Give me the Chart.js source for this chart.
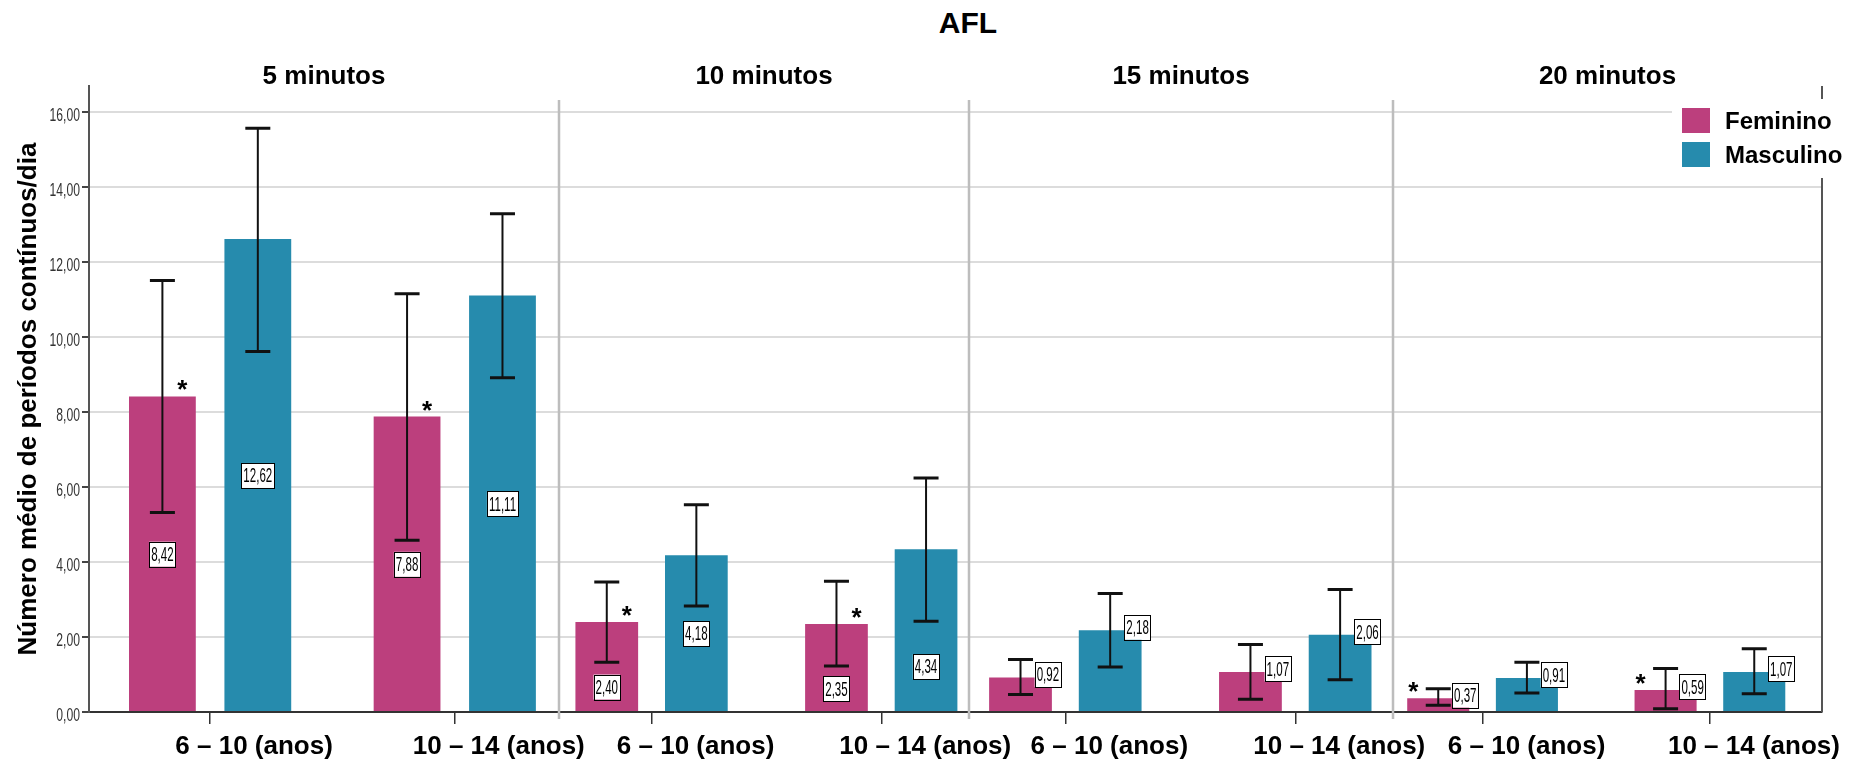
<!DOCTYPE html>
<html>
<head>
  <meta charset="utf-8" />
  <title>AFL</title>
  <script src="https://cdn.jsdelivr.net/npm/chart.js"></script>
  <style>
    body { margin: 0; background: #fff; }
    .figura { position: relative; width: 1863px; height: 765px; overflow: hidden; }
    .figura canvas { position: absolute; top: 0; }
    .titulo {
      position: absolute; left: 868px; top: 8px; width: 200px; text-align: center;
      font: bold 30px 'Liberation Sans', Arial, sans-serif; line-height: 30px; color: #000;
    }
  </style>
</head>
<body>
  <div class="figura">
    <div class="titulo">AFL</div>
    <canvas id="p0" width="619" height="765" style="left:0px"></canvas>
    <canvas id="p1" width="474" height="765" style="left:555px"></canvas>
    <canvas id="p2" width="488" height="765" style="left:965px"></canvas>
    <canvas id="p3" width="474" height="765" style="left:1389px"></canvas>
  </div>

  <script>
    // dados
    const panels = ['5 minutos', '10 minutos', '15 minutos', '20 minutos'];
    const categories = ['6 – 10 (anos)', '10 – 14 (anos)'];
    const yTicks = [0, 2, 4, 6, 8, 10, 12, 14, 16];

    const femMean = [[8.42, 7.88], [2.40, 2.35], [0.92, 1.07], [0.37, 0.59]];
    const femLow  = [[5.32, 4.58], [1.33, 1.23], [0.47, 0.34], [0.18, 0.09]];
    const femHigh = [[11.51, 11.16], [3.47, 3.49], [1.40, 1.80], [0.62, 1.16]];

    const mascMean = [[12.62, 11.11], [4.18, 4.34], [2.18, 2.06], [0.91, 1.07]];
    const mascLow  = [[9.62, 8.92], [2.83, 2.42], [1.20, 0.86], [0.51, 0.49]];
    const mascHigh = [[15.57, 13.29], [5.53, 6.24], [3.16, 3.27], [1.33, 1.69]];

    // asterisco (diferença significativa) sobre as barras do sexo feminino
    const femStar = [[true, true], [true, true], [false, false], [true, true]];

    // estilo
    const corF = '#BC3F7D';
    const corM = '#268BAD';
    const fonte = "'Liberation Sans', Arial, sans-serif";

    // posição de cada painel (padding do canvas e limites do eixo x)
    const layoutPaineis = [
      { pl: 0, pr: 60, xmin: -0.495, xmax: 1.426 },
      { pl: 4, pr: 60, xmin: -0.403, xmax: 1.382 },
      { pl: 4, pr: 60, xmin: -0.419, xmax: 1.425 },
      { pl: 4, pr: 41, xmin: -0.394, xmax: 1.493 }
    ];

    const fmt = v => v.toFixed(2).replace('.', ',');

    // texto condensado (como o do SPSS): escala horizontal
    function textoEstreito(ctx, txt, x, y, size, escala, align) {
      ctx.save();
      ctx.font = size + 'px ' + fonte;
      ctx.textBaseline = 'middle';
      ctx.textAlign = align;
      ctx.translate(x, y);
      ctx.scale(escala, 1);
      ctx.fillText(txt, 0, 0);
      ctx.restore();
    }

    function desenhaErro(ctx, x, yLo, yHi) {
      ctx.strokeStyle = '#111';
      ctx.lineWidth = 2;
      ctx.beginPath();
      ctx.moveTo(x, yHi); ctx.lineTo(x, yLo);
      ctx.stroke();
      ctx.lineWidth = 3;
      ctx.beginPath();
      ctx.moveTo(x - 12.5, yHi); ctx.lineTo(x + 12.5, yHi);
      ctx.moveTo(x - 12.5, yLo); ctx.lineTo(x + 12.5, yLo);
      ctx.stroke();
    }

    function desenhaRotulo(ctx, txt, cx, cy) {
      ctx.font = '21px ' + fonte;
      const w = ctx.measureText(txt).width * 0.55 + 4, h = 25;
      ctx.fillStyle = '#fff';
      ctx.fillRect(cx - w / 2, cy - h / 2, w, h);
      ctx.strokeStyle = '#000';
      ctx.lineWidth = 1;
      ctx.strokeRect(Math.round(cx - w / 2) + 0.5, Math.round(cy - h / 2) + 0.5, Math.round(w), h);
      ctx.fillStyle = '#000';
      textoEstreito(ctx, txt, cx, cy + 1, 21, 0.55, 'center');
    }

    function painelPlugin(p) {
      return {
        id: 'painel' + p,
        beforeDatasetsDraw(chart) {
          const { ctx, chartArea } = chart;
          if (p > 0) {
            // linha separadora entre painéis
            ctx.save();
            ctx.strokeStyle = '#bdbdbd';
            ctx.lineWidth = 2.5;
            ctx.beginPath();
            ctx.moveTo(chartArea.left, 100);
            ctx.lineTo(chartArea.left, chartArea.bottom + 7);
            ctx.stroke();
            ctx.restore();
          }
        },
        afterDatasetsDraw(chart) {
          const { ctx } = chart;
          const y = chart.scales.y;
          const series = [
            { mean: femMean[p], low: femLow[p], high: femHigh[p] },
            { mean: mascMean[p], low: mascLow[p], high: mascHigh[p] }
          ];
          const dentro = p < 2;
          ctx.save();
          series.forEach((s, d) => {
            const meta = chart.getDatasetMeta(d);
            meta.data.forEach((bar, i) => {
              desenhaErro(ctx, bar.x, y.getPixelForValue(s.low[i]), y.getPixelForValue(s.high[i]));
            });
          });
          series.forEach((s, d) => {
            const meta = chart.getDatasetMeta(d);
            meta.data.forEach((bar, i) => {
              let cx, cy;
              if (dentro) {
                const v = s.mean[i] / 2 < s.low[i] - 0.6 ? s.mean[i] / 2 : s.low[i] / 2;
                cx = bar.x;
                cy = y.getPixelForValue(v);
              } else {
                cx = bar.x + bar.width / 2 - 4;
                cy = bar.y - 3;
              }
              desenhaRotulo(ctx, fmt(s.mean[i]), cx, cy);
            });
          });
          // asteriscos
          const metaF = chart.getDatasetMeta(0);
          ctx.fillStyle = '#000';
          ctx.font = 'bold 26px ' + fonte;
          ctx.textAlign = 'center';
          ctx.textBaseline = 'alphabetic';
          metaF.data.forEach((bar, i) => {
            if (!femStar[p][i]) return;
            const sx = dentro ? bar.x + 20 : bar.x - 25;
            ctx.fillText('*', sx, bar.y + 2);
          });
          ctx.restore();
        },
        afterDraw(chart) {
          const { ctx, chartArea } = chart;
          ctx.save();
          // título do painel
          ctx.fillStyle = '#000';
          ctx.font = 'bold 26px ' + fonte;
          ctx.textAlign = 'center';
          ctx.textBaseline = 'middle';
          ctx.fillText(panels[p], (chartArea.left + chartArea.right) / 2, 77);

          if (p === 0) {
            // rótulos do eixo y, condensados
            const y = chart.scales.y;
            ctx.fillStyle = '#333';
            yTicks.forEach(v => {
              textoEstreito(ctx, fmt(v), chartArea.left - 9, y.getPixelForValue(v) + 4, 19, 0.64, 'right');
            });
          }

          if (p === panels.length - 1) {
            // borda direita
            ctx.strokeStyle = '#555';
            ctx.lineWidth = 2;
            ctx.beginPath();
            ctx.moveTo(chartArea.right, chartArea.top);
            ctx.lineTo(chartArea.right, chartArea.bottom);
            ctx.stroke();
            // legenda
            const r = chartArea.right;
            ctx.fillStyle = '#fff';
            ctx.fillRect(r - 150, 99, 200, 79);
            const itens = [['Feminino', corF, 108], ['Masculino', corM, 142]];
            ctx.font = 'bold 24px ' + fonte;
            ctx.textAlign = 'left';
            itens.forEach(([txt, cor, top]) => {
              ctx.fillStyle = cor;
              ctx.fillRect(r - 140, top, 28, 25);
              ctx.fillStyle = '#000';
              ctx.fillText(txt, r - 97, top + 14);
            });
          }
          ctx.restore();
        }
      };
    }

    function criaPainel(p) {
      const lp = layoutPaineis[p];
      const primeiro = p === 0;
      return new Chart(document.getElementById('p' + p), {
        type: 'bar',
        data: {
          datasets: [{
            label: 'Feminino',
            data: categories.map((c, i) => ({ x: i, y: femMean[p][i] })),
            backgroundColor: corF,
            categoryPercentage: 0.78,
            barPercentage: 0.7
          }, {
            label: 'Masculino',
            data: categories.map((c, i) => ({ x: i, y: mascMean[p][i] })),
            backgroundColor: corM,
            categoryPercentage: 0.78,
            barPercentage: 0.7
          }]
        },
        options: {
          responsive: false,
          animation: false,
          devicePixelRatio: 1,
          layout: { padding: { top: 86, bottom: 0, left: lp.pl, right: lp.pr } },
          plugins: {
            legend: { display: false },
            tooltip: { enabled: false },
            title: { display: false }
          },
          scales: {
            x: {
              type: 'linear',
              offset: false,
              min: lp.xmin,
              max: lp.xmax,
              afterBuildTicks: s => { s.ticks = categories.map((c, i) => ({ value: i })); },
              afterFit: s => { s.height = 53; },
              ticks: {
                callback: v => categories[v],
                labelOffset: 44,
                padding: 7,
                autoSkip: false,
                maxRotation: 0,
                color: '#000',
                font: { family: fonte, size: 26, weight: 'bold', lineHeight: 1.2 }
              },
              grid: { offset: false, drawOnChartArea: false, drawTicks: true, tickLength: 12, tickColor: '#333', lineWidth: 1.5 },
              border: { display: true, color: '#333', width: 2 }
            },
            y: {
              min: 0,
              max: 16.7,
              afterBuildTicks: s => { s.ticks = yTicks.map(v => ({ value: v })); },
              afterFit: s => { s.width = primeiro ? 89 : 0; },
              ticks: { display: false },
              grid: {
                color: c => (c.tick && c.tick.value === 0) ? 'rgba(0,0,0,0)' : '#dcdcdc',
                lineWidth: 2,
                drawTicks: primeiro,
                tickLength: 7,
                tickColor: '#444'
              },
              border: { display: primeiro, color: '#555', width: 2 },
              title: {
                display: primeiro,
                text: 'Número médio de períodos contínuos/dia',
                color: '#000',
                font: { family: fonte, size: 26, weight: 'bold', lineHeight: 1.2 },
                padding: { top: 13, bottom: 0 }
              }
            }
          }
        },
        plugins: [painelPlugin(p)]
      });
    }

    panels.forEach((nome, p) => criaPainel(p));
  </script>
</body>
</html>
